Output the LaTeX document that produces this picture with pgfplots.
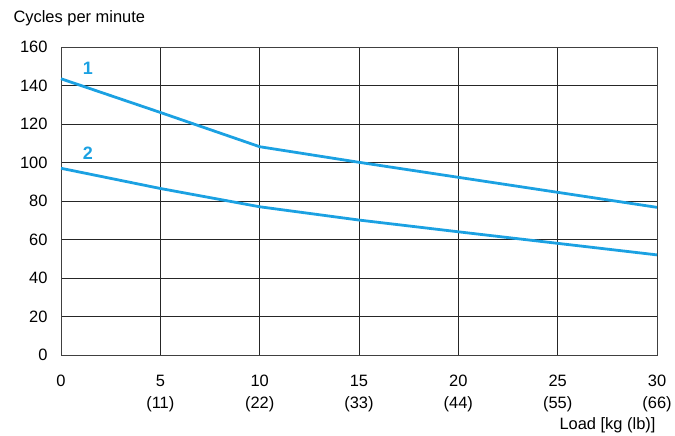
\documentclass[border=0pt]{standalone}
\usepackage{fontspec}
\setmainfont{Liberation Sans}
\usepackage{pgfplots}
\pgfplotsset{compat=1.18}
\definecolor{curve}{RGB}{27,161,226}
\begin{document}
\begin{tikzpicture}[font=\fontsize{16.5}{22}\selectfont]
\begin{axis}[
  scale only axis,
  width=596bp, height=308bp,
  xmin=0, xmax=30, ymin=0, ymax=160,
  xtick={0,5,...,30},
  ytick={0,20,...,160},
  xticklabels={0,{5\\(11)},{10\\(22)},{15\\(33)},{20\\(44)},{25\\(55)},{30\\(66)}},
  xticklabel style={align=center, anchor=north, yshift=-17bp, font=\fontsize{16.5}{22}\selectfont},
  x tick label as interval=false,
  yticklabel style={xshift=-10bp},
  /pgf/number format/assume math mode=true,
  major tick length=0pt,
  grid=major,
  major grid style={black!85, line width=0.8pt},
  axis line style={black!75, line width=0.8pt},
  clip=false,
]
\addplot[curve, line width=2.8pt] coordinates {
  (0,143.5) (5,126) (10,108.2) (15,100.1) (20,92.3) (25,84.5) (30,76.7)
};
\addplot[curve, line width=2.8pt] coordinates {
  (0,97) (5,86.5) (10,77) (15,70.1) (20,64) (25,58) (30,52)
};
\node[curve, font=\fontsize{18}{20}\selectfont\bfseries] at (axis cs:1.35,149) {1};
\node[curve, font=\fontsize{18}{20}\selectfont\bfseries] at (axis cs:1.35,105) {2};
\node[anchor=west] at (rel axis cs:0,1) [xshift=-51bp, yshift=29bp] {Cycles per minute};
\node[anchor=east] at (rel axis cs:1,0) [xshift=2bp, yshift=-70bp] {Load [kg (lb)]};
\coordinate (O) at (rel axis cs:0,0);
\end{axis}
\path (O) ++(-61bp,-79bp) rectangle ++(675bp,434bp);
\end{tikzpicture}
\end{document}
